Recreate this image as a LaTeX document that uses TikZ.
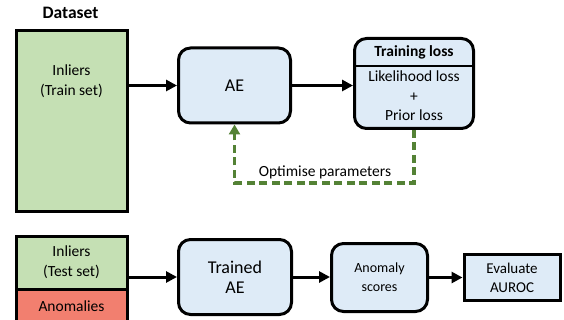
\documentclass[tikz,border=0pt]{standalone}
\usepackage{fontspec}
\setmainfont{Carlito}
\usetikzlibrary{arrows.meta}
\definecolor{gfill}{HTML}{C5E0B4}
\definecolor{bfill}{HTML}{DEEBF7}
\definecolor{rfill}{HTML}{F27F6F}
\definecolor{gline}{HTML}{548235}
\tikzset{
  base/.style={draw=black, line width=3pt, inner sep=0pt, align=center},
  databox/.style={base, fill=gfill},
  anombox/.style={base, fill=rfill},
  rbox/.style={base, fill=bfill, rounded corners=12pt},
  sbox/.style={base, fill=bfill},
  txt/.style={inner sep=0pt, align=center, font=\fontsize{15.5}{19.5}\selectfont},
  arr/.style={line width=3pt, -{Triangle[length=11pt,width=11pt]}},
  optarr/.style={draw=gline, line width=3.2pt, dash pattern=on 8pt off 4.5pt, -{Triangle[length=10pt,width=11pt,fill=gline]}},
}
\begin{document}
\begin{tikzpicture}[x=1pt,y=-1pt]
\useasboundingbox (0,0) rectangle (564,320);
\fill[white] (0,0) rectangle (564,320);
% Dataset
\node[txt, font=\fontsize{17.5}{20}\selectfont\bfseries] (dstitle) at (70.5,13) {Dataset};
\node[databox, minimum width=111pt, minimum height=181pt] (train) at (71.5,121.5) {};
\node[txt] (traintxt) at (71.5,81) {Inliers\\(Train set)};
% AE
\node[rbox, minimum width=112pt, minimum height=75pt, font=\fontsize{18}{20}\selectfont] (ae) at (234.5,85.5) {AE};
% Training loss
\node[rbox, minimum width=119pt, minimum height=90pt] (tl) at (414,83.5) {};
\draw[line width=1.8pt] (tl.west |- 0,66) -- (tl.east |- 0,66);
\node[txt, font=\fontsize{15.5}{19.5}\selectfont\bfseries] (tltitle) at (414,52) {Training loss};
\node[txt] (tlbody) at (414,96) {Likelihood loss\\+\\Prior loss};
\draw[arr] (train.east |- ae.west) -- (ae.west);
\draw[arr] (ae.east) -- (tl.west |- ae.east);
\coordinate (optc) at (325,183);
\draw[optarr] (tl.south) |- (optc) -| (ae.south);
\node[txt, anchor=south] (optlbl) at (325,179) {Optimise parameters};
% Test
\node[databox, minimum width=111pt, minimum height=53pt] (testin) at (71.5,262.5) {};
\node[txt] (testtxt) at (71.5,262) {Inliers\\(Test set)};
\node[anombox, minimum width=111pt, minimum height=34pt] (anom) at (71.5,306) {};
\node[txt] (anomtxt) at (71.5,306) {Anomalies};
\node[rbox, minimum width=113pt, minimum height=75pt, font=\fontsize{18}{20}\selectfont] (tae) at (235,277) {Trained\\AE};
\node[rbox, minimum width=96pt, minimum height=68pt, font=\fontsize{14}{19}\selectfont] (ascore) at (379.5,277.5) {Anomaly\\scores};
\node[sbox, minimum width=96pt, minimum height=46pt, font=\fontsize{15}{19}\selectfont] (auroc) at (512,277.5) {Evaluate\\AUROC};
\draw[arr] (testin.east |- tae.west) -- (tae.west);
\draw[arr] (tae.east) -- (ascore.west |- tae.east);
\draw[arr] (ascore.east) -- (auroc.west |- ascore.east);
\end{tikzpicture}
\end{document}
